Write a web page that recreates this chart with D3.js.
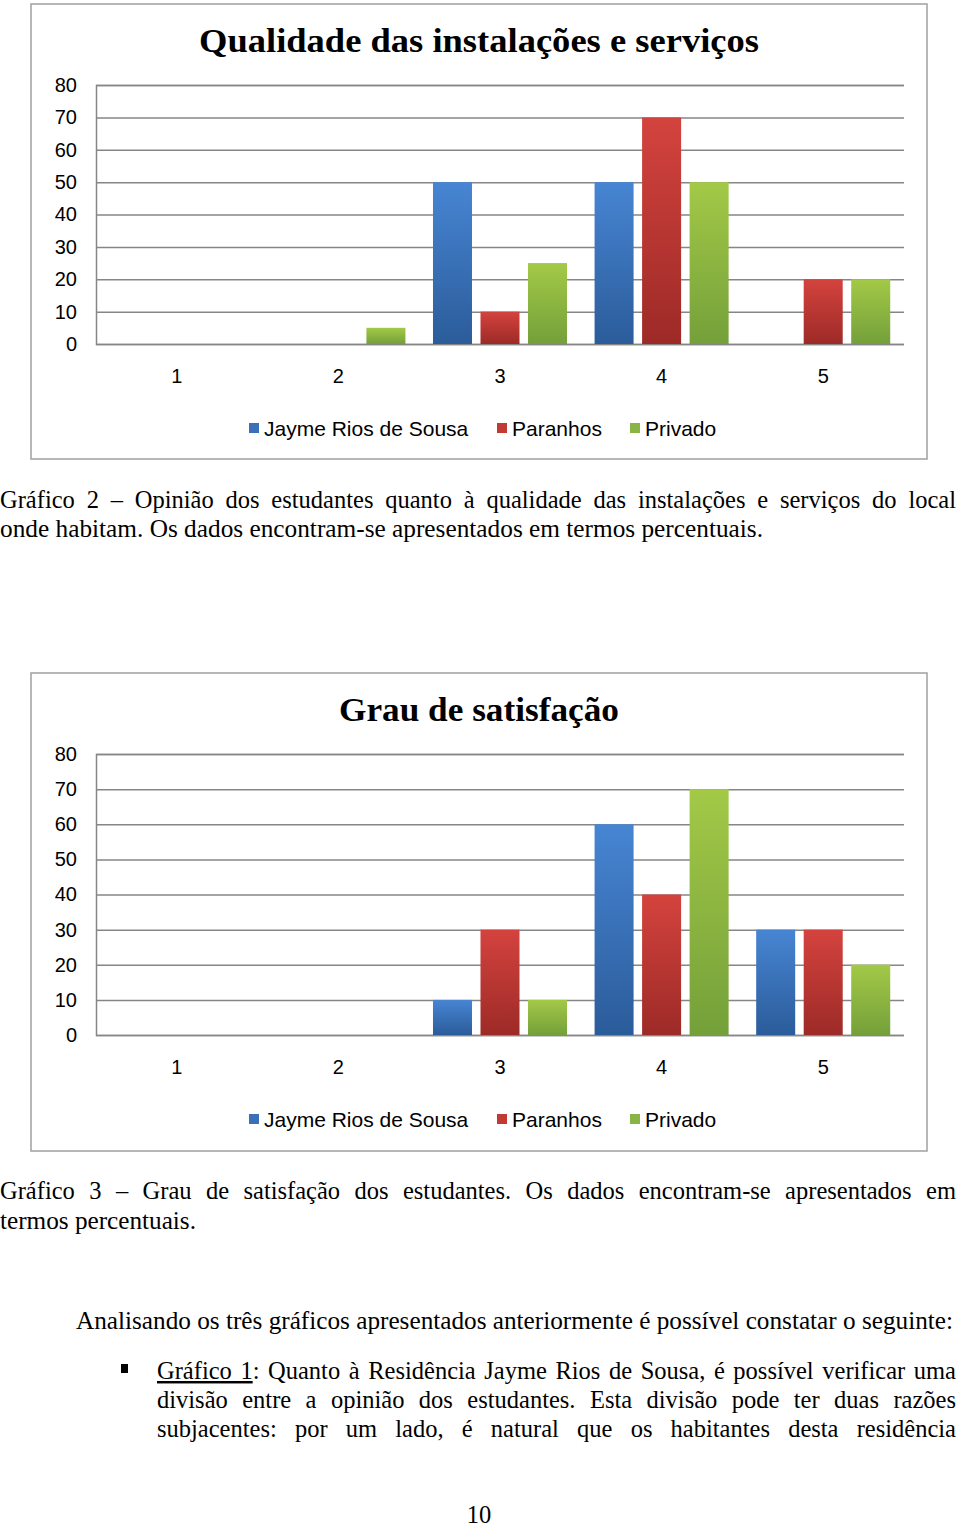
<!DOCTYPE html>
<html><head><meta charset="utf-8">
<script src="https://cdn.jsdelivr.net/npm/d3@7"></script>
<style>body{margin:0;background:#fff}svg{display:block}</style>
</head><body>
<svg id="page" width="960" height="1527"></svg>
<script>
const categories = ["1","2","3","4","5"];
const seriesNames = ["Jayme Rios de Sousa","Paranhos","Privado"];
const yTicks = [0,10,20,30,40,50,60,70,80];
// Chart 1: Qualidade das instalações e serviços
const q_jayme    = [0, 0, 50, 50, 0];
const q_paranhos = [0, 0, 10, 70, 20];
const q_privado  = [0, 5, 25, 50, 20];
// Chart 2: Grau de satisfação
const s_jayme    = [0, 0, 10, 60, 30];
const s_paranhos = [0, 0, 30, 40, 30];
const s_privado  = [0, 0, 10, 70, 20];

const svg = d3.select("#page");
const defs = svg.append("defs");
const grads = [["#4785d3","#2b5c9a"],["#d4433e","#9d2a27"],["#a3c947","#74a03a"]];
const legendCol = ["#3b70b9","#c13a33","#8ab443"];
grads.forEach((g,i)=>{
  const lg = defs.append("linearGradient").attr("id","g"+i).attr("x1",0).attr("y1",0).attr("x2",0).attr("y2",1);
  lg.append("stop").attr("offset","0%").attr("stop-color",g[0]);
  lg.append("stop").attr("offset","100%").attr("stop-color",g[1]);
});

function chart(cfg){
  const g = svg.append("g");
  g.append("rect").attr("x",cfg.box[0]).attr("y",cfg.box[1]).attr("width",cfg.box[2]).attr("height",cfg.box[3])
    .attr("fill","#fff").attr("stroke","#a6a6a6").attr("stroke-width",1.6);
  g.append("text").attr("x",cfg.titleX).attr("y",cfg.titleY).attr("text-anchor","middle")
    .attr("font-family","'Liberation Serif', serif").attr("font-weight","bold").attr("font-size",cfg.titleSize)
    .attr("textLength",cfg.titleLen).attr("lengthAdjust","spacingAndGlyphs").attr("fill","#000").text(cfg.title);
  const x0 = d3.scaleBand().domain(categories).range([96,904]).paddingInner(0).paddingOuter(0);
  const x1 = d3.scaleBand().domain(seriesNames).range([0,x0.bandwidth()]).paddingInner(0.179).paddingOuter(0.29);
  const y = d3.scaleLinear().domain([0,80]).range(cfg.yr);
  const yAxis = d3.axisLeft(y).tickValues(yTicks).tickSize(-808).tickFormat(d=>d).tickPadding(19);
  const ag = g.append("g").attr("transform","translate(96,0)").call(yAxis);
  ag.select(".domain").attr("stroke","#868686").attr("stroke-width",1.5);
  ag.selectAll(".tick line").attr("stroke","#868686").attr("stroke-width",1.5);
  ag.selectAll(".tick text").attr("font-family","'Liberation Sans', Arial, sans-serif").attr("font-size",20).attr("fill","#000");
  const xAxis = d3.axisBottom(x0).tickSize(0).tickPadding(25);
  const xg = g.append("g").attr("transform",`translate(0,${cfg.yr[0]})`).call(xAxis);
  xg.select(".domain").remove();
  xg.selectAll(".tick text").attr("font-family","'Liberation Sans', Arial, sans-serif").attr("font-size",20).attr("fill","#000");
  cfg.data.forEach((vals,si)=>{
    g.append("g").selectAll("rect").data(vals.map((v,i)=>({v,c:categories[i]})).filter(d=>d.v>0)).join("rect")
      .attr("x",d=>x0(d.c)+x1(seriesNames[si]))
      .attr("y",d=>y(d.v))
      .attr("width",x1.bandwidth())
      .attr("height",d=>y(0)-y(d.v))
      .attr("fill",`url(#g${si})`);
  });
  const lx = [249,497,630];
  seriesNames.forEach((n,i)=>{
    g.append("rect").attr("x",lx[i]).attr("y",cfg.legY-6).attr("width",10).attr("height",10).attr("fill",legendCol[i]);
    g.append("text").attr("x",lx[i]+15).attr("y",cfg.legY+7).attr("font-family","'Liberation Sans', Arial, sans-serif")
      .attr("font-size",21).attr("fill","#000").text(n);
  });
}

chart({box:[31,4,896,455], title:"Qualidade das instalações e serviços", titleX:479, titleY:52, titleSize:34, titleLen:560,
  yr:[344,85], legY:429, data:[q_jayme,q_paranhos,q_privado]});
chart({box:[31,673,896,478], title:"Grau de satisfação", titleX:479, titleY:721, titleSize:34, titleLen:280,
  yr:[1035,754], legY:1120, data:[s_jayme,s_paranhos,s_privado]});

// body text (Times-like, justified)
const serif = "'Liberation Serif', 'Times New Roman', serif";
const SX = 1.0;
const body = svg.append("g").attr("transform",`scale(${SX},1)`);
function line(x, yb, parts, width, justify){
  const t = body.append("text").attr("x",x/SX).attr("y",yb).attr("font-family",serif).attr("font-size",24.5).attr("fill","#000");
  parts.forEach(p=>{
    const ts = t.append("tspan").text(p.t);
    if(p.u) ts.attr("text-decoration","underline");
  });
  const natural = t.node().getComputedTextLength();
  const full = parts.map(p=>p.t).join("");
  const w = width/SX;
  if(justify){
    const spaces = (full.match(/ /g)||[]).length;
    t.attr("word-spacing",(w-natural)/spaces);
  } else if(width){
    t.attr("textLength",w).attr("lengthAdjust","spacingAndGlyphs");
  }
  return t;
}
line(0,508,[{t:"Gráfico 2 – Opinião dos estudantes quanto à qualidade das instalações e serviços do local"}],956,true);
line(0,537,[{t:"onde habitam. Os dados encontram-se apresentados em termos percentuais."}],763,false);
line(0,1199,[{t:"Gráfico 3 – Grau de satisfação dos estudantes. Os dados encontram-se apresentados em"}],956,true);
line(0,1229,[{t:"termos percentuais."}],196,false);
line(76,1329,[{t:"Analisando os três gráficos apresentados anteriormente é possível constatar o seguinte:"}],877,false);
svg.append("rect").attr("x",121).attr("y",1364).attr("width",7).attr("height",9).attr("fill","#000");
line(157,1379,[{t:"Gráfico 1",u:true},{t:": Quanto à Residência Jayme Rios de Sousa, é possível verificar uma"}],799,true);
line(157,1408,[{t:"divisão entre a opinião dos estudantes. Esta divisão pode ter duas razões"}],799,true);
line(157,1437,[{t:"subjacentes: por um lado, é natural que os habitantes desta residência"}],799,true);
body.append("text").attr("x",479/SX).attr("y",1523).attr("text-anchor","middle").attr("font-family",serif)
  .attr("font-size",24.5).attr("fill","#000").text("10");
</script>
</body></html>
